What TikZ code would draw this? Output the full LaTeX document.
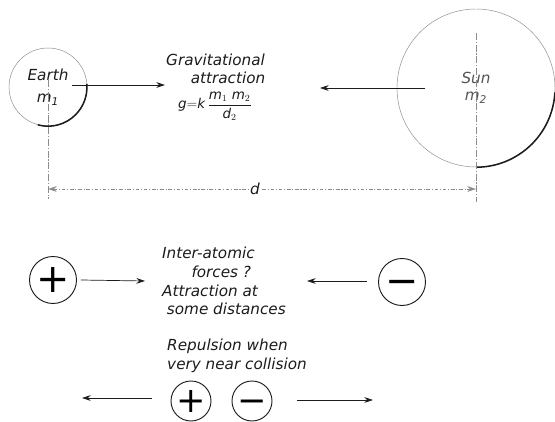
\documentclass[tikz,border=0pt]{standalone}
\usepackage{fontspec}
\setmainfont{DejaVu Sans}
\usetikzlibrary{arrows.meta,positioning}
\definecolor{ink}{HTML}{1C1C1C}
\definecolor{pale}{HTML}{8C8C8C}
\tikzset{>={Stealth[length=2.6mm,width=1.7mm]},
  body/.style={circle,draw=pale,line width=0.4pt,align=center,inner sep=0pt,
    font=\itshape\fontsize{13}{19}\selectfont,text=ink},
  charge/.style={circle,draw=ink,line width=0.8pt,inner sep=0pt,
    font=\fontsize{34}{34}\selectfont},
  lbl/.style={font=\itshape\fontsize{13}{16}\selectfont,text=ink,align=left,inner sep=0pt},
  flow/.style={->,line width=0.6pt,ink},
  axis/.style={pale,line width=0.4pt,dash pattern=on 6pt off 1.5pt on 1pt off 1.5pt},
  dline/.style={axis,dash pattern=on 3pt off 1.5pt on 1pt off 1.5pt},
  rim/.style={ink,line width=1.3pt}}

\begin{document}
\begin{tikzpicture}[x=0.03cm,y=0.03cm]
  \useasboundingbox[fill=white] (0,0) rectangle (555,422);
  % gravity
  \node[body,minimum size=2.34cm] (earth) at (48,335) {Earth\\m\textsubscript{1}};
  \node[body,minimum size=4.74cm,text=ink!75,font=\itshape\fontsize{13}{15}\selectfont] (sun) at (476,334) {Sun\\m\textsubscript{2}};
  \draw[rim] (earth.-105) arc[start angle=-105,end angle=5,radius=1.17cm];
  \draw[rim] (sun.-90) arc[start angle=-90,end angle=-3,radius=2.37cm];
  \node[lbl,anchor=west,font=\itshape\fontsize{13}{15}\selectfont] (grav) at (166,353) {Gravitational\\\hspace*{21pt}attraction};
  \node[lbl,font=\itshape\fontsize{11.5}{14}\selectfont] (law) at (215,316) {$\displaystyle\mathit{g}{=}\mathit{k}\,\frac{\mathit{m}_1\ \mathit{m}_2}{\mathit{d}_2}$};
  \coordinate (eA) at (72,337); \coordinate (eB) at (165,337);
  \coordinate (sA) at (425,334); \coordinate (sB) at (320,334);
  \draw[flow] (eA) -- (eB);
  \draw[flow] (sA) -- (sB);
  % distance
  \coordinate (dL) at (48,233); \coordinate (dR) at (476,233);
  \draw[axis] ([yshift=0.2cm]earth.center) -- ([yshift=-0.3cm]dL);
  \draw[axis] ([yshift=1.65cm]sun.center) -- ([yshift=-0.4cm]dR);
  \node[lbl,fill=white,inner sep=2pt] (dist) at (255,233) {d};
  \draw[dline,<-] (dL) -- (dist);
  \draw[dline,->] (dist) -- (dR);
  % inter-atomic
  \node[charge,minimum size=1.41cm] (p1) at (53,142) {+};
  \node[charge,minimum size=1.41cm] (n1) at (402,140) {\vphantom{+}−};
  \node[lbl,anchor=west] (atom) at (162,141) {Inter-atomic\\\hspace*{25pt}forces ?\\Attraction at\\\hspace*{4pt}some distances};
  \draw[flow] (p1.east) ++(4,0) coordinate (pA) -- (145,141) coordinate (pB);
  \draw[flow] (367,141) coordinate (nA) -- (307,141) coordinate (nB);
  % repulsion
  \node[lbl,anchor=west] (rep) at (167,66) {Repulsion when\\very near collision};
  \node[charge,minimum size=1.2cm,font=\fontsize{30}{30}\selectfont] (p2) at (191,21) {+};
  \node[charge,minimum size=1.2cm,font=\fontsize{30}{30}\selectfont] (n2) at (252,21) {\vphantom{+}−};
  \coordinate (lA) at (152,24); \coordinate (lB) at (82,24);
  \coordinate (rA) at (297,22); \coordinate (rB) at (373,22);
  \draw[flow] (lA) -- (lB);
  \draw[flow] (rA) -- (rB);
\end{tikzpicture}
\end{document}
